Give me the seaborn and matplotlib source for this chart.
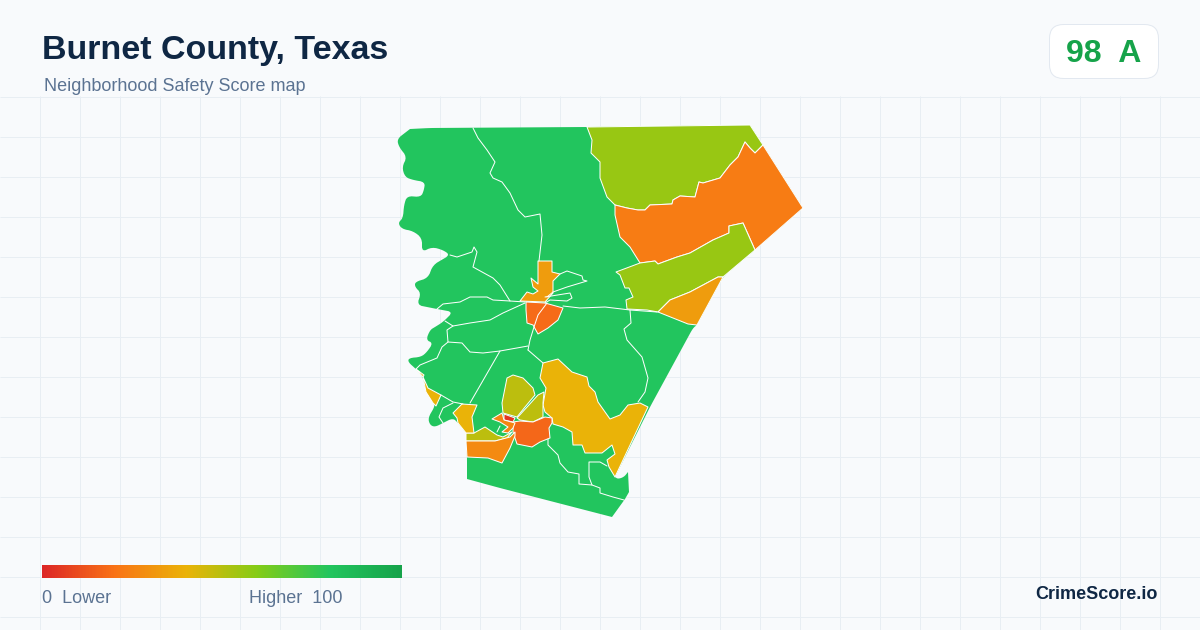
import matplotlib
matplotlib.use("Agg")
import matplotlib.pyplot as plt
import numpy as np
import seaborn as sns
from matplotlib.colors import LinearSegmentedColormap
from matplotlib.patches import FancyBboxPatch

# ---- data ------------------------------------------------------------------
title = "Burnet County, Texas"
subtitle = "Neighborhood Safety Score map"
county_score = "98  A"
brand = "CrimeScore.io"
legend_low = "0  Lower"
legend_high = "Higher  100"
scale_stops = [0, 20, 40, 60, 80, 100]
scale_colors = ["#dc2626", "#f97316", "#eab308", "#84cc16", "#22c55e", "#16a34a"]

# tract outlines (x, y in picture pixels)
county = [(410,129),(430,128),(587,127),(750,125),(763,145),(803,208),(755,250),(723,277),(697,325),(693,328),
 (650,407),(615,477),(618,479),(624,477),(628,472),(629,492),(625,499),(612,517),(500,488),(467,479),(467,457),
 (466,433),(458,423),(453,418),(443,423),(435,427),(430,425),(428,418),(435,406),(433,403),(425,388),(423,377),
 (416,369),(408,362),(409,358),(421,357),(427,352),(433,343),(426,340),(430,330),(435,327),(443,322),(453,312),
 (437,309),(417,305),(421,293),(415,287),(415,282),(428,278),(433,265),(450,255),(443,250),(432,247),(422,252),
 (422,238),(413,231),(402,229),(398,223),(403,218),(404,205),(407,196),(421,197),(424,190),(425,182),(413,180),
 (405,177),(402,167),(407,157),(399,147),(397,139)]
county_sharp_corners = [(410,129),(587,127),(750,125),(803,208),(615,477),(628,472),(629,492),(625,499),(612,517),
 (467,479),(466,433)]
north_east = [(587,127),(592,140),(591,153),(600,162),(600,178),(607,197),(615,205),(627,208),(638,210),(645,210),
 (650,205),(672,204),(673,200),(680,196),(695,197),(699,182),(703,183),(720,178),(730,165),(738,157),(745,142),
 (750,148),(755,153),(763,145),(750,125)]
east_band = [(615,205),(627,208),(638,210),(645,210),(650,205),(672,204),(673,200),(680,196),(695,197),(699,182),
 (703,183),(720,178),(730,165),(738,157),(745,142),(750,148),(755,153),(763,145),(803,208),(755,250),(743,223),
 (729,226),(729,233),(713,240),(690,253),(677,257),(658,264),(655,261),(640,263),(630,247),(620,237),(615,215)]
east_mid = [(616,272),(640,263),(655,261),(658,264),(677,257),(690,253),(713,240),(729,233),(729,226),(743,223),
 (755,250),(723,277),(718,277),(690,292),(670,300),(658,312),(647,310),(627,309),(626,300),(633,297),(629,288),
 (625,288),(620,275)]
east_wedge = [(658,312),(670,300),(690,292),(718,277),(723,277),(697,325),(688,324),(673,318)]
south_east = [(543,363),(558,359),(572,372),(587,377),(589,386),(595,392),(598,402),(610,419),(620,415),(628,405),
 (640,403),(648,407),(615,477),(609,467),(607,460),(615,454),(612,445),(602,453),(585,453),(582,445),(573,445),
 (572,432),(563,427),(553,424),(552,418),(545,412),(543,405),(546,388),(540,378)]
olive_north = [(502,403),(507,378),(513,375),(523,378),(533,388),(535,395),(525,407),(517,417),(503,413)]
olive_east = [(517,418),(528,406),(538,395),(544,392),(543,403),(543,417),(533,422),(520,420)]
town_south = [(513,422),(520,421),(533,422),(545,417),(552,418),(552,423),(549,428),(550,438),(540,442),(532,447),
 (517,444),(513,432)]
town_core = [(504,414),(515,418),(513,422),(504,420)]
town_west = [(492,419),(502,413),(504,420),(515,423),(513,428),(508,433),(502,432),(508,427),(500,422)]
lake_band = [(466,433),(474,433),(485,427),(497,435),(503,437),(512,432),(507,438),(495,441),(466,441)]
south_west = [(466,441),(495,441),(510,437),(515,432),(515,436),(510,448),(502,463),(488,458),(467,457)]
west_hook = [(453,413),(462,404),(477,405),(472,417),(474,433),(466,433),(458,423),(457,418)]
west_sliver = [(423,377),(428,388),(441,395),(436,406),(433,403),(426,392)]
west_tip = [(416,369),(424,375),(423,377)]
center_north = [(538,261),(552,261),(552,272),(560,274),(553,281),(553,293),(545,302),(520,301),(527,292),(533,294),
 (538,291),(533,287),(531,278),(538,284)]
center_south = [(526,302),(545,303),(563,308),(558,320),(548,328),(538,334),(533,325),(527,323),(526,310)]

region_outlines = [north_east, east_band, east_mid, east_wedge, south_east, olive_north, olive_east, town_south,
                   town_core, town_west, lake_band, south_west, west_hook, west_sliver, west_tip,
                   center_north, center_south]
region_scores = [56, 23, 56, 33, 40, 49, 49, 17, 4, 26, 49, 27, 40, 40, 40, 33, 18]
base_score = 80

boundaries = [
 [(473,128),(478,138),(487,150),(495,162),(490,173),(493,178),(502,182),(510,193),(518,210),(525,217),(540,214),(542,235),(539,261)],
 [(450,255),(457,257),(472,252),(474,247),(477,252),(473,267),(493,278),(500,285),(510,301)],
 [(437,309),(443,304),(460,302),(470,297),(487,297),(493,300),(510,301),(525,302)],
 [(525,303),(503,313),(490,320),(470,323),(453,326),(445,321)],
 [(453,326),(447,330),(448,342),(462,343),(470,352),(483,353),(500,351),(528,346)],
 [(547,303),(538,315),(534,327),(530,340),(528,350)],
 [(448,342),(442,347),(437,358),(420,365),(416,369)],
 [(500,351),(470,403)],
 [(441,395),(453,402),(463,404)],
 [(528,350),(543,363)],
 [(453,403),(443,408),(439,417),(443,423)],
 [(560,274),(567,271),(582,276),(583,280),(587,281),(567,287),(553,292),(547,297)],
 [(545,297),(570,293),(572,298),(567,301),(550,300),(545,303)],
 [(563,306),(580,308),(605,307),(630,310),(657,312)],
 [(630,310),(631,323),(624,329),(627,340),(642,357),(648,378),(645,392),(638,402)],
 [(548,439),(548,445),(558,455),(560,463),(568,472),(579,474),(579,484),(592,485),(600,488),(600,493),(613,497),(624,500)],
 [(607,466),(600,462),(589,462),(589,477),(592,485)],
 [(500,426),(497,432)],
]

grid_xs = list(range(40, 1200, 40))
grid_ys = list(range(96, 630, 40))

# ---- style -----------------------------------------------------------------
sns.set_theme(style="white")
plt.rcParams["font.family"] = ["Liberation Sans", "DejaVu Sans"]
PX = 72 / 100
BG = "#f8fafc"
GRID = "#e8eef3"
cmap = LinearSegmentedColormap.from_list(
    "score", [(s / 100, c) for s, c in zip(scale_stops, scale_colors)])


def round_corners(points, sharp, cut=3.0, passes=2):
    """Soften polygon corners, leaving the vertices listed in `sharp` untouched."""
    doubled = []
    for p in points:
        doubled += [p, p] if p in sharp else [p]
    pts = np.asarray(doubled, float)
    for _ in range(passes):
        out = []
        for a, b in zip(pts, np.roll(pts, -1, axis=0)):
            d = np.hypot(*(b - a))
            t = min(0.25, cut / d) if d else 0
            out += [a + (b - a) * t, b - (b - a) * t]
        pts = np.array(out)
        cut /= 2
    return pts


fig = plt.figure(figsize=(12, 6.3), dpi=100, facecolor=BG)
ax = fig.add_axes([0, 0, 1, 1])

ax.vlines(grid_xs, 96, 630, color=GRID, lw=1 * PX, zorder=1)
ax.hlines([y + 0.7 for y in grid_ys], 0, 1200, color=GRID, lw=1 * PX, zorder=1)

# ---- map -------------------------------------------------------------------
shape = round_corners(county, county_sharp_corners)
ax.fill(shape[:, 0], shape[:, 1], facecolor=cmap(base_score / 100), edgecolor="none", zorder=2)
for outline, score in zip(region_outlines, region_scores):
    xs, ys = zip(*outline)
    ax.fill(xs, ys, facecolor=cmap(score / 100), edgecolor="white", lw=1 * PX,
            joinstyle="round", zorder=3)
for line in boundaries:
    xs, ys = zip(*line)
    sns.lineplot(x=list(xs), y=list(ys), sort=False, estimator=None, ax=ax,
                 color="white", lw=1 * PX, zorder=4, legend=False)
ax.set_xlim(0, 1200)
ax.set_ylim(630, 0)
ax.axis("off")

# ---- text ------------------------------------------------------------------
ax.text(42, 47, title, fontsize=34 * PX, fontweight="bold", color="#0f2744", va="center_baseline", zorder=6)
ax.text(44, 84.6, subtitle, fontsize=18 * PX, color="#5b7392", va="center_baseline", zorder=6)
badge = FancyBboxPatch((1049.5, 24.5), 109, 54, boxstyle="round,pad=0,rounding_size=14",
                       fc="white", ec="#e2e8f0", lw=1 * PX, zorder=5)
ax.add_patch(badge)
ax.text(1104, 51, county_score, fontsize=32 * PX, fontweight="bold", color="#16a34a",
        ha="center", va="center_baseline", zorder=6)
ax.text(1158, 592.6, brand, fontsize=18 * PX, fontweight="bold", color="#0f2744",
        ha="right", va="center_baseline", zorder=6)
ax.text(42, 596.6, legend_low, fontsize=18 * PX, color="#5b7392", va="center_baseline", zorder=6)
ax.text(249, 596.6, legend_high, fontsize=18 * PX, color="#5b7392", va="center_baseline", zorder=6)

# ---- legend bar ------------------------------------------------------------
cax = fig.add_axes([42 / 1200, 1 - 578 / 630, 360 / 1200, 13 / 630])
sns.heatmap(np.linspace(0, 100, 361).reshape(1, -1), vmin=0, vmax=100, cmap=cmap, cbar=False,
            xticklabels=False, yticklabels=False, ax=cax, rasterized=True)

fig.savefig("out.png", dpi=100, facecolor=BG)
